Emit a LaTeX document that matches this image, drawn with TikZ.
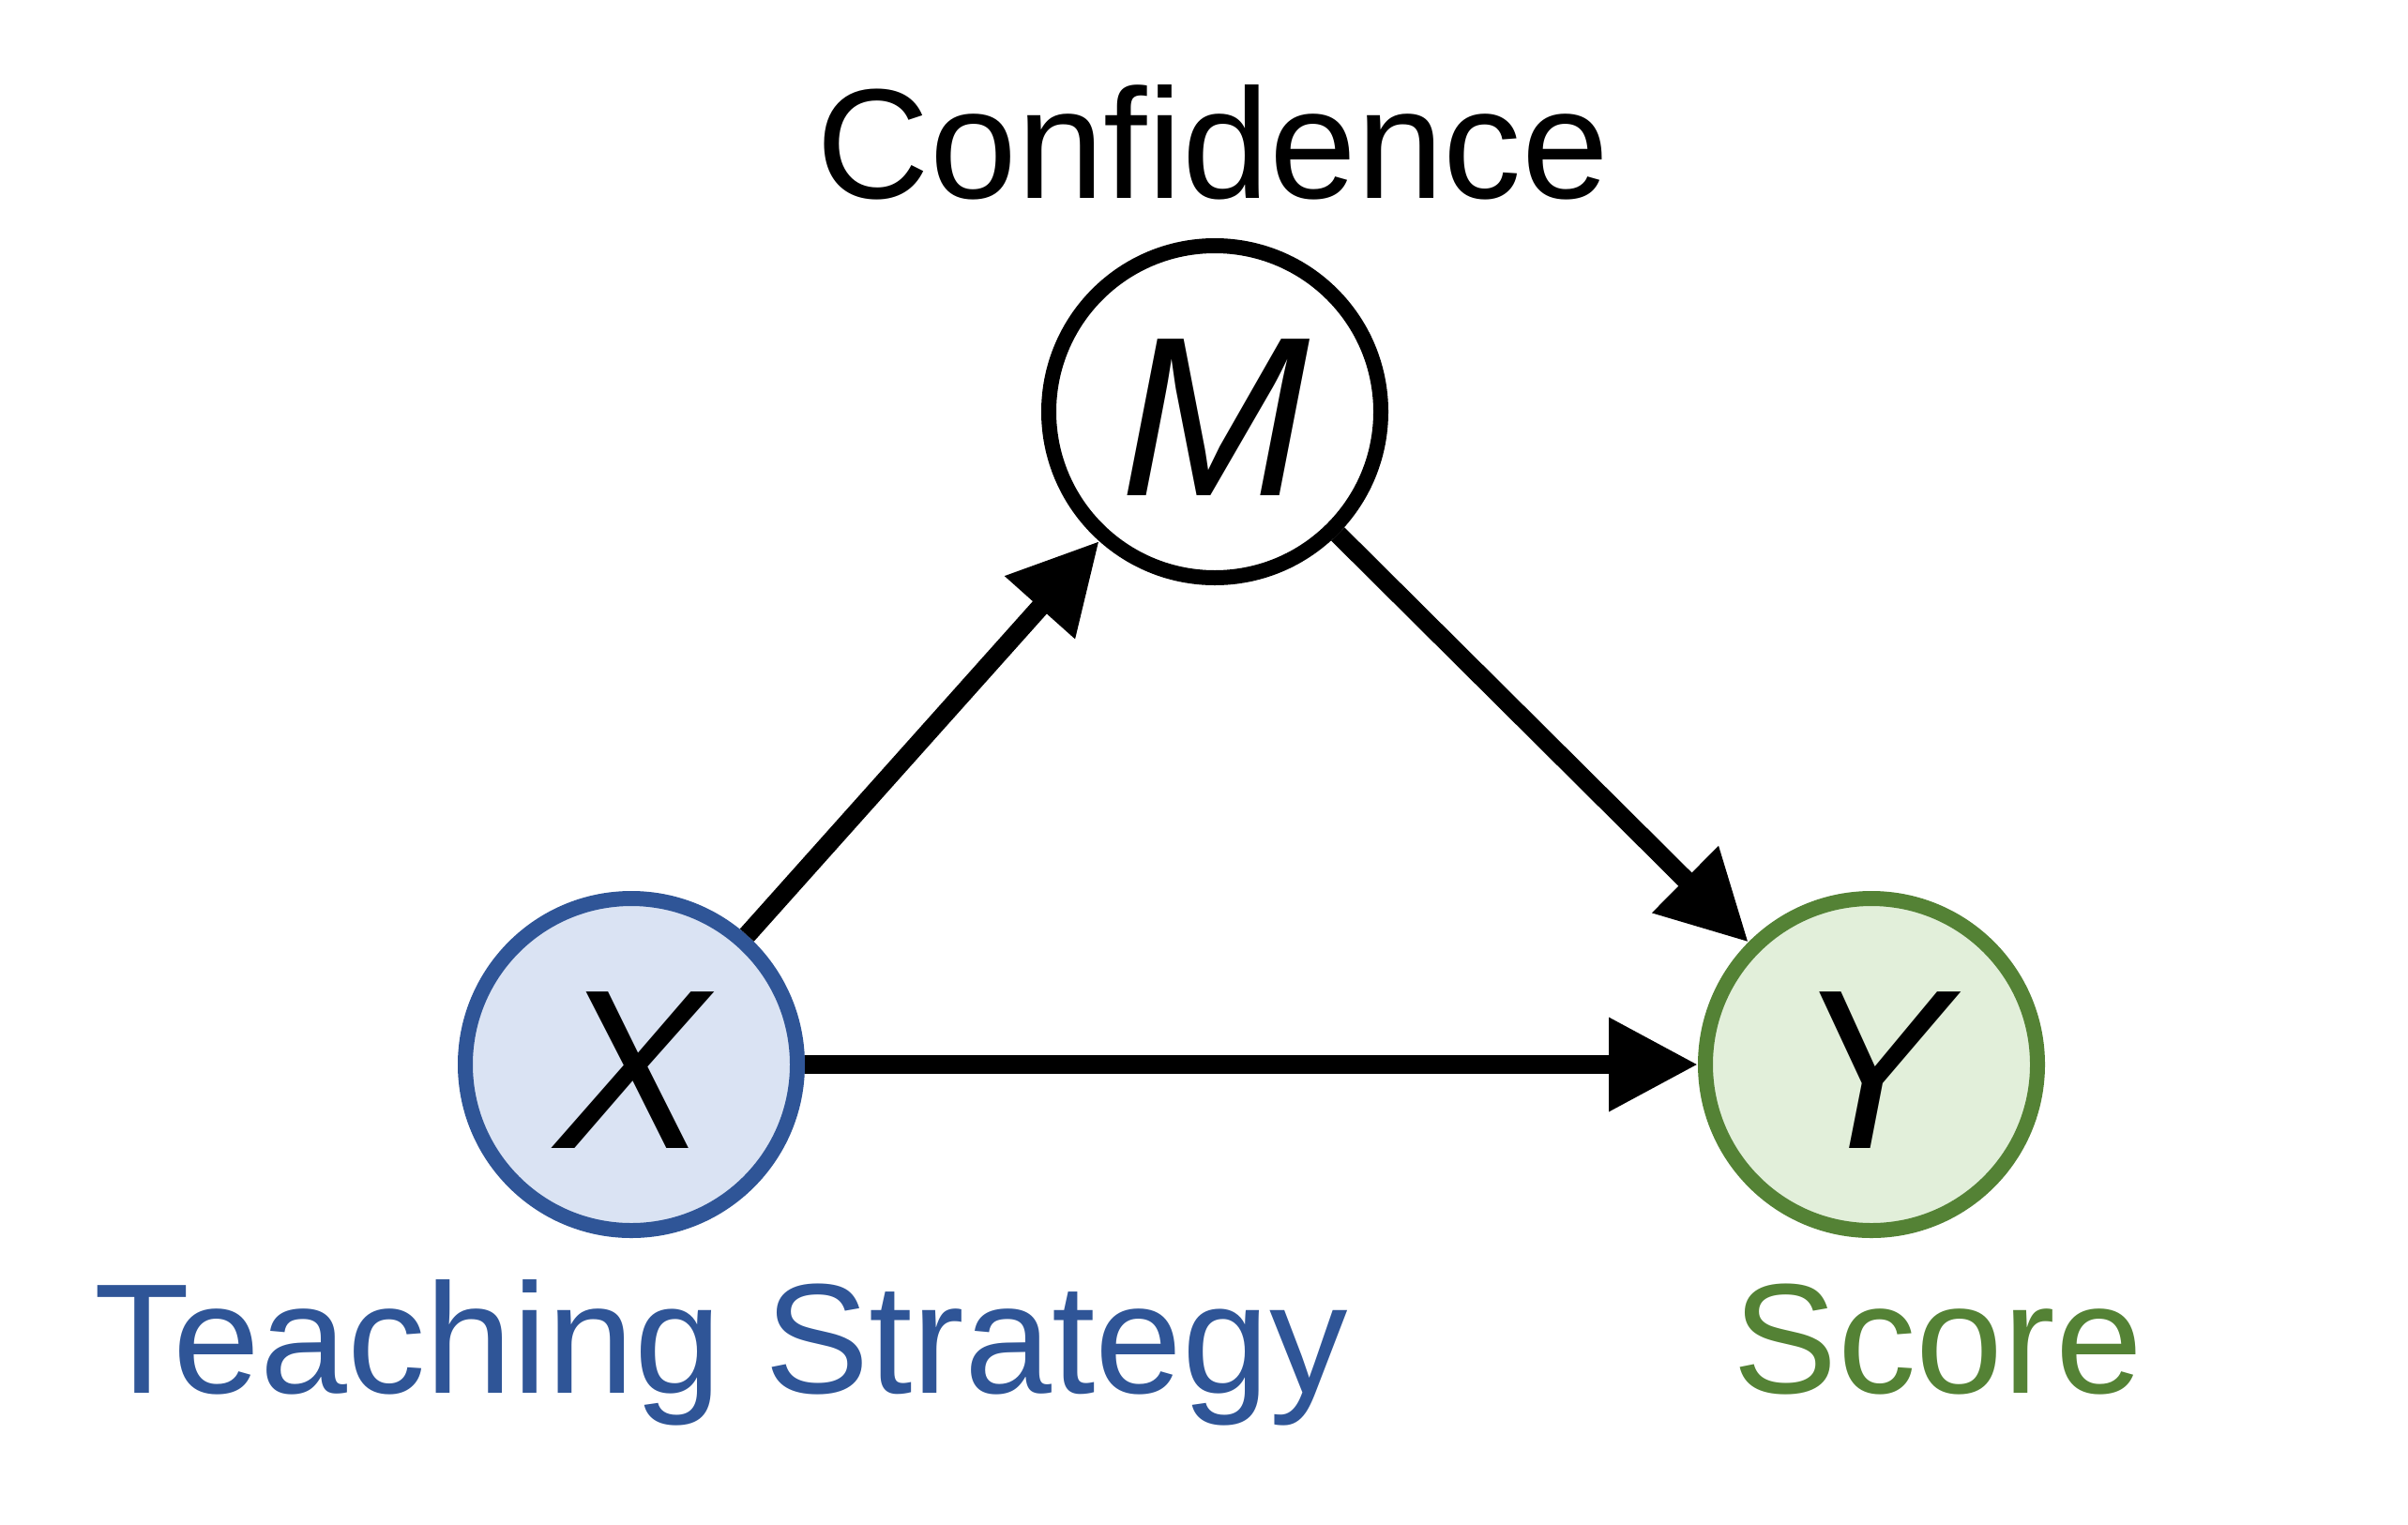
\documentclass[tikz,border=0pt]{standalone}
\usepackage{fontspec}
\setmainfont{Liberation Sans}
\usetikzlibrary{arrows.meta}
\definecolor{xblue}{HTML}{2F5597}
\definecolor{xfill}{HTML}{DAE3F3}
\definecolor{ygreen}{HTML}{548235}
\definecolor{yfill}{HTML}{E2EFDA}
\tikzset{
  var/.style={circle, draw, line width=0.16cm, minimum size=3.54cm, inner sep=0pt,
    font=\fontsize{69}{72}\selectfont\itshape, text height=1.64cm, text depth=0pt},
  lbl/.style={anchor=base, font=\fontsize{47.5}{52}\selectfont},
  path/.style={line width=0.2cm, -{Triangle[length=0.95cm, width=0.95cm]}}
}
\begin{document}
\begin{tikzpicture}
    \useasboundingbox (0, 0) rectangle (25.67, -16.25) ;
    \node[var] (M) at (12.95, -4.39) {} ;
    \node[var, draw=xblue, fill=xfill] (X) at (6.73, -11.35) {} ;
    \node[var, draw=ygreen, fill=yfill] (Y) at (19.95, -11.35) {} ;
    % the letters sit a little below the centres
    \node[var, draw=none] (mtxt) at ([yshift=-0.07cm]M.center) {M} ;
    \node[var, draw=none] (xtxt) at ([yshift=-0.07cm]X.center) {X} ;
    \node[var, draw=none] (ytxt) at ([yshift=-0.07cm]Y.center) {Y} ;
    \node[lbl] (conf) at (12.93, -2.11) {Confidence} ;
    \node[lbl, text=xblue] (teach) at (7.69, -14.85) {Teaching Strategy} ;
    \node[lbl, text=ygreen] (score) at (20.66, -14.85) {Score} ;
    \draw[path] (X) -- (M) ;
    \draw[path] (M) -- (Y) ;
    \draw[path] (X) -- (Y) ;
  \end{tikzpicture}
\end{document}
